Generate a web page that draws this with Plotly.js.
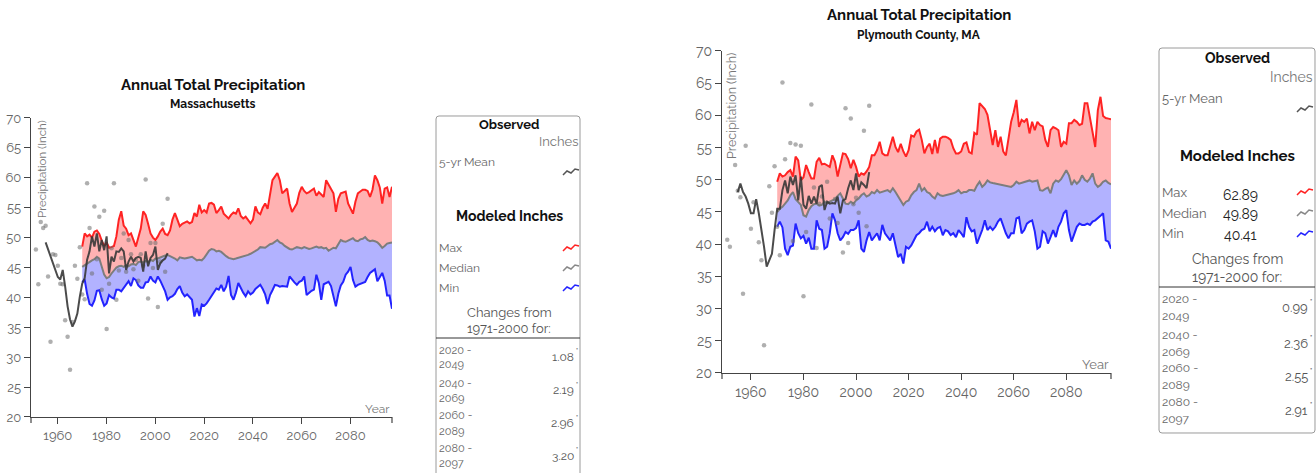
<!DOCTYPE html>
<html><head><meta charset="utf-8">
<script src="https://cdn.plot.ly/plotly-3.0.1.min.js"></script>
<style>html,body{margin:0;padding:0;background:#fff;}#chart{width:1316px;height:473px;}</style>
</head><body><div id="chart"></div>
<script>
// ---------------- DATA ----------------
const modelStart = 1970, modelEnd = 2097;
const modelYears = [];
for (let y = modelStart; y <= modelEnd; y++) modelYears.push(y);

// Massachusetts modeled (inches), 1970-2097
const maMax = [
48.5,50.7,50.2,50.5,50.0,51.0,51.2,50.6,49.5,48.6,
49.2,48.3,48.4,48.6,50.2,53.0,54.4,52.0,51.5,50.4,
50.7,49.5,48.5,50.0,51.5,54.4,53.8,52.3,50.7,50.0,
49.6,50.2,51.0,51.5,50.6,50.4,51.2,53.0,54.1,53.0,
51.9,52.3,52.5,52.7,52.4,52.6,54.1,53.5,55.5,54.2,
54.6,54.2,55.7,55.8,55.5,54.1,54.6,55.2,54.0,53.6,
53.2,53.8,54.2,54.0,54.9,53.6,53.2,53.5,53.0,52.4,
53.0,55.2,54.2,53.9,55.0,55.7,54.8,57.0,59.6,60.2,
60.8,59.6,57.4,57.8,58.2,55.7,54.3,55.0,55.7,57.5,
58.5,57.8,57.4,57.6,57.9,58.2,57.0,57.6,57.2,56.8,
59.6,58.8,58.0,57.4,54.3,56.5,57.4,57.6,57.7,55.7,
54.8,54.0,56.0,57.4,57.7,58.0,58.0,57.8,56.8,58.0,
60.4,59.6,58.4,55.7,58.2,58.4,56.8,58.5];
const maMedian = [
45.1,45.4,45.7,46.0,46.2,46.4,46.8,46.5,45.0,43.8,
43.2,43.4,44.0,44.6,45.0,45.2,45.3,45.1,45.4,45.2,
45.5,45.6,45.4,45.9,46.0,45.8,46.1,45.9,46.3,46.1,
46.5,46.5,46.7,46.8,47.0,47.1,46.9,46.8,46.5,46.2,
46.7,46.6,46.5,46.6,46.7,46.8,46.5,46.2,46.3,46.2,
46.6,47.3,47.8,48.1,48.0,47.7,47.8,47.6,47.2,46.9,
46.6,46.5,46.4,46.5,46.6,46.7,46.8,46.9,47.1,47.3,
47.5,47.7,48.0,48.4,48.3,48.3,48.6,48.9,49.0,49.3,
49.6,49.2,49.0,48.6,48.3,48.1,48.0,48.2,48.4,48.3,
48.2,48.4,48.3,48.1,48.2,48.4,48.5,48.3,48.4,48.2,
48.3,47.8,48.1,48.3,48.2,48.9,49.6,49.4,49.3,49.5,
49.7,49.9,49.5,49.4,49.7,49.8,50.1,49.6,49.4,49.5,
49.4,49.2,48.8,48.3,48.6,49.0,49.1,49.2];
const maMin = [
42.5,43.0,40.6,38.9,38.6,39.5,41.1,41.2,39.7,38.6,
39.0,40.4,40.0,39.8,41.3,41.3,41.0,41.6,42.2,42.7,
41.9,43.2,42.9,42.0,41.6,41.6,42.5,42.6,43.5,42.8,
42.5,43.5,42.8,41.8,41.0,39.6,40.0,40.2,40.6,41.4,
41.9,40.8,40.2,40.5,40.0,39.6,36.8,38.2,36.9,38.8,
38.6,39.0,39.6,40.3,40.8,41.5,41.3,42.1,41.0,41.8,
43.6,40.4,39.6,40.8,42.4,41.5,40.8,40.2,41.0,40.5,
40.8,41.4,41.8,42.1,41.4,40.5,38.9,40.4,41.2,42.1,
42.0,41.8,41.9,41.8,41.8,43.5,42.9,42.5,42.1,42.6,
42.8,43.5,40.4,40.8,41.1,41.3,43.8,42.4,39.6,42.2,
42.4,42.6,41.9,40.0,38.5,40.6,42.0,42.6,43.8,44.3,
45.1,42.9,41.8,42.1,42.3,42.5,42.6,43.4,44.1,44.4,
44.7,42.7,43.5,44.1,42.8,40.3,40.3,38.1];

// Massachusetts observed annual totals
const maObsYears = [
1951,1952,1953,1954,1955,1956,1957,1958,1959,1960,
1961,1962,1963,1964,1965,1966,1967,1968,1969,1970,
1971,1972,1973,1974,1975,1976,1977,1978,1979,1980,
1981,1982,1983,1984,1985,1986,1987,1988,1989,1990,
1991,1992,1993,1994,1995,1996,1997,1998,1999,2000,
2001,2002,2003,2004,2005];
const maObs = [
48.0,42.2,52.6,51.6,52.0,43.5,32.6,47.2,47.1,45.3,
42.3,42.2,36.2,33.4,27.9,35.9,45.3,43.1,48.4,40.5,
39.7,59.1,51.6,44.0,55.2,46.4,53.5,41.3,54.5,34.7,
42.3,48.2,59.1,39.6,44.5,46.6,50.7,44.3,49.6,47.2,
44.7,46.3,42.8,47.2,45.3,59.7,39.8,49.1,44.9,49.1,
38.4,46.0,52.3,44.3,56.5];
// Observed 5-yr mean, 1955-2005
const meanYears = [];
for (let y = 1955; y <= 2005; y++) meanYears.push(y);
const maMean = [
49.2,48.0,46.8,45.7,44.5,43.4,43.0,44.6,41.8,38.5,
36.3,35.1,36.0,37.3,40.1,42.3,43.2,46.3,47.7,50.2,
48.5,50.7,47.7,49.6,47.9,50.2,44.0,46.8,46.0,47.7,
47.6,48.2,47.7,44.6,46.0,46.8,46.0,46.6,46.8,46.6,
44.3,47.7,45.2,46.6,47.1,48.5,44.6,45.7,46.2,46.5,
47.4];

// Plymouth County modeled (inches), 1970-2097
const plyMax = [
49.7,51.0,50.5,50.7,51.2,51.5,50.5,53.6,53.0,49.9,
50.4,52.3,51.2,50.2,50.2,52.8,53.4,52.4,52.5,52.2,
52.0,53.8,52.8,50.5,52.5,54.1,54.0,53.2,51.8,53.1,
52.0,50.5,51.0,50.8,51.3,52.0,53.8,53.8,54.6,55.9,
54.1,53.8,53.8,55.1,56.7,55.1,54.3,55.6,54.4,53.6,
54.6,56.9,56.7,57.5,57.8,56.2,54.1,55.1,55.6,54.0,
56.2,54.1,56.4,56.7,56.7,56.5,56.2,54.9,54.1,54.1,
54.4,55.6,55.8,54.3,54.1,57.3,57.0,61.9,61.4,61.0,
60.1,58.0,55.4,57.7,55.1,56.7,54.4,53.8,56.2,59.0,
60.5,62.4,58.2,59.3,59.0,59.5,57.2,59.0,57.7,59.0,
58.5,58.3,56.2,55.1,57.7,58.2,58.0,57.7,55.1,55.9,
55.6,58.8,58.8,59.3,59.0,58.5,58.7,61.9,61.9,59.5,
57.2,55.1,60.8,62.89,59.9,59.6,59.5,59.4];
const plyMedian = [
45.0,45.5,45.8,46.3,46.8,47.6,48.1,47.0,46.6,46.1,
44.5,44.3,45.3,45.9,46.2,46.3,46.0,46.1,46.6,46.3,
46.6,46.8,47.0,47.5,47.9,47.1,46.3,46.2,46.6,46.3,
46.8,47.1,47.6,47.9,47.4,47.6,48.1,47.9,48.4,48.0,
48.1,48.2,48.4,48.1,48.7,48.1,47.4,46.6,46.1,46.6,
46.8,47.6,48.1,48.4,49.4,48.3,48.7,48.1,47.9,47.4,
47.1,47.9,47.6,47.5,47.6,47.6,47.7,47.9,48.1,48.4,
47.9,48.1,48.1,48.4,48.4,48.3,49.1,49.7,48.9,49.3,
49.9,49.6,49.5,49.4,49.4,49.2,49.2,49.1,48.9,48.9,
49.2,49.7,49.4,49.5,49.7,49.7,49.9,49.7,49.8,49.9,
48.4,48.3,48.6,48.8,47.9,49.4,49.9,49.7,50.1,50.7,
51.5,50.7,49.2,49.9,49.4,49.8,50.7,50.0,49.7,50.2,
51.0,49.4,48.9,49.2,49.7,49.9,49.5,49.3];
const plyMin = [
42.7,43.5,42.6,39.3,38.3,39.6,39.8,43.2,41.7,40.9,
41.3,40.1,41.0,39.3,39.3,43.7,42.4,42.2,39.3,39.6,
41.7,44.8,43.7,41.7,40.6,41.1,41.9,41.6,42.2,42.2,
42.5,43.7,39.3,38.8,40.6,41.9,40.6,41.1,41.7,40.6,
43.0,41.7,41.1,40.6,41.7,39.6,38.0,38.5,37.0,39.6,
39.3,39.8,40.6,41.4,41.7,42.2,42.4,43.5,42.0,42.7,
42.0,42.5,42.7,41.4,42.2,42.0,41.4,41.7,41.1,42.2,
41.7,41.1,44.2,42.7,42.0,42.2,40.1,41.1,42.2,43.7,
42.2,42.7,42.2,42.7,43.5,44.0,42.7,41.7,40.9,41.7,
41.7,44.0,44.2,41.7,42.2,43.2,43.5,43.7,42.0,39.3,
39.6,42.0,41.7,40.1,41.1,42.2,41.1,42.7,43.5,44.8,
45.3,42.2,40.4,41.7,42.7,43.2,43.0,43.0,43.2,43.0,
43.5,43.7,44.0,44.4,44.8,40.6,40.4,39.3];

// Plymouth observed annual totals
const plyObsYears = [
1951,1952,1954,1955,1956,1957,1958,1960,1961,1963,
1964,1965,1967,1968,1969,1970,1971,1972,1973,1975,
1976,1977,1979,1980,1981,1983,1984,1985,1986,1987,
1989,1990,1992,1993,1995,1996,1997,1998,1999,2000,
2001,2003,2004,2005];
const plyObs = [
40.7,39.6,52.3,48.3,47.3,32.3,55.3,42.4,46.5,40.3,
37.5,24.3,49.0,44.9,52.1,42.7,38.3,65.1,53.2,55.7,
40.5,55.5,55.3,31.9,41.9,61.7,48.8,39.4,46.3,47.4,
49.7,44.0,47.0,43.3,38.7,61.1,40.2,59.5,46.2,47.2,
44.9,57.6,42.8,61.5];
// Plymouth observed 5-yr mean, 1955-2005
const plyMean = [
48.1,49.4,48.1,47.4,46.3,44.8,44.8,47.0,44.8,42.4,
39.6,36.5,37.5,38.5,42.2,45.5,45.5,48.4,49.9,47.9,
50.5,49.2,50.7,46.8,50.5,46.1,45.5,47.5,46.3,47.4,
46.3,48.9,49.2,45.3,46.6,46.3,46.4,46.3,47.4,44.8,
46.8,47.0,48.7,49.9,48.4,51.0,48.4,49.6,49.2,48.7,
51.2];

// Axis ticks
const xRange = [1949, 2097];
const xTickVals = [1960,1980,2000,2020,2040,2060,2080];
const xTickText = ['1960','1980','2000','2020','2040','2060','2080'];
const yTickVals = [20,25,30,35,40,45,50,55,60,65,70];

// Legend texts
const periodStart = ['2020 -','2040 -','2060 -','2080 -'];
const periodEnd = ['2049','2069','2089','2097'];
const maChange = ['1.08','2.19','2.96','3.20'];
const plyChange = ['0.99','2.36','2.55','2.91'];
const modeledNames = ['Max','Median','Min'];
const plyModeled = ['62.89','49.89','40.41'];

// ---------------- LAYOUT HELPERS ----------------
const W = 1316, H = 473;
const FONT = 'Raleway, Lato, "Open Sans", sans-serif';
const X = v => +(v / W).toFixed(5);
const Y = v => +(1 - v / H).toFixed(5);

const RED = 'rgb(255,35,35)', BLUE = 'rgb(35,35,255)', MED = 'rgb(125,125,125)', MEAN = 'rgba(55,55,55,0.9)';

function panelTraces(xa, ya, mn, md, mx, oy, ov, mv) {
  return [
    {x: modelYears, y: mn, xaxis: xa, yaxis: ya, mode: 'lines', line: {color: BLUE, width: 2}, hoverinfo: 'skip'},
    {x: modelYears, y: md, xaxis: xa, yaxis: ya, mode: 'lines', line: {color: MED, width: 2},
     fill: 'tonexty', fillcolor: 'rgba(0,0,255,0.3)', hoverinfo: 'skip'},
    {x: modelYears, y: mx, xaxis: xa, yaxis: ya, mode: 'lines', line: {color: RED, width: 2},
     fill: 'tonexty', fillcolor: 'rgba(255,0,0,0.3)', hoverinfo: 'skip'},
    {x: oy, y: ov, xaxis: xa, yaxis: ya, mode: 'markers', marker: {color: 'rgba(110,110,110,0.55)', size: 4.5}, hoverinfo: 'skip'},
    {x: meanYears, y: mv, xaxis: xa, yaxis: ya, mode: 'lines', line: {color: MEAN, width: 2}, hoverinfo: 'skip'}
  ];
}

const data = [
  ...panelTraces('x', 'y', maMin, maMedian, maMax, maObsYears, maObs, maMean),
  ...panelTraces('x2', 'y2', plyMin, plyMedian, plyMax, plyObsYears, plyObs, plyMean)
];

function xAxis(l, r, anchor, fs) {
  return {domain: [X(l), X(r)], range: xRange, anchor: anchor, tickmode: 'array',
    tickvals: xTickVals, ticktext: xTickText, ticks: 'outside', ticklen: 6, tickcolor: '#444',
    showline: true, linecolor: '#444', linewidth: 1.2, showgrid: false, zeroline: false,
    tickfont: {size: fs, color: '#666', family: FONT}, fixedrange: true};
}
function yAxis(top, bottom, anchor, fs) {
  return {domain: [Y(bottom), Y(top)], range: [20, 70], anchor: anchor, tickmode: 'array',
    tickvals: yTickVals, ticks: 'outside', ticklen: 6, tickcolor: '#444',
    showline: true, linecolor: '#444', linewidth: 1.2, showgrid: false, zeroline: false,
    tickfont: {size: fs, color: '#666', family: FONT}, fixedrange: true};
}

const annotations = [];
function txt(text, x, y, xa, size, color, extra) {
  annotations.push(Object.assign({text: text, x: X(x), y: Y(y), xref: 'paper', yref: 'paper',
    xanchor: xa, yanchor: 'middle', showarrow: false, font: {size: size, color: color, family: FONT}}, extra || {}));
}
const shapes = [];
function box(x0, y0, x1, y1, r) {
  const p = `M${X(x0 + r)},${Y(y0)} L${X(x1 - r)},${Y(y0)} Q${X(x1)},${Y(y0)} ${X(x1)},${Y(y0 + r)} ` +
    `L${X(x1)},${Y(y1 - r)} Q${X(x1)},${Y(y1)} ${X(x1 - r)},${Y(y1)} L${X(x0 + r)},${Y(y1)} ` +
    `Q${X(x0)},${Y(y1)} ${X(x0)},${Y(y1 - r)} L${X(x0)},${Y(y0 + r)} Q${X(x0)},${Y(y0)} ${X(x0 + r)},${Y(y0)} Z`;
  shapes.push({type: 'path', xref: 'paper', yref: 'paper', path: p, line: {color: '#9a9a9a', width: 1}, fillcolor: 'rgba(0,0,0,0)'});
}
function hline(x0, x1, y) {
  shapes.push({type: 'line', xref: 'paper', yref: 'paper', x0: X(x0), x1: X(x1), y0: Y(y), y1: Y(y), line: {color: '#333', width: 1}});
}
function vline(x, y0, y1) {
  shapes.push({type: 'line', xref: 'paper', yref: 'paper', x0: X(x), x1: X(x), y0: Y(y0), y1: Y(y1), line: {color: '#444', width: 1.2}});
}
function icon(x, y, color) {
  const pts = [[0, 7], [4, 3], [8, 5], [12, 1], [16, 2]];
  const p = pts.map((q, i) => (i ? 'L' : 'M') + X(x + q[0]) + ',' + Y(y + q[1])).join(' ');
  shapes.push({type: 'path', xref: 'paper', yref: 'paper', path: p, line: {color: color, width: 1.5}});
}
// value with a small raised inch mark
function inchValue(v, xRight, y, size) {
  txt(v, xRight - 4, y, 'right', size, '#555');
  txt('"', xRight, y - 6, 'right', Math.round(size * 0.6), '#555');
}

// ----- Panel 1: Massachusetts -----
txt('<b>Annual Total Precipitation</b>', 213, 85, 'center', 15, '#111');
txt('<b>Massachusetts</b>', 213, 104, 'center', 12, '#111');
annotations.push({text: 'Precipitation (Inch)', x: X(42), y: Y(118), xref: 'paper', yref: 'paper',
  xanchor: 'center', yanchor: 'top', textangle: -90, showarrow: false, font: {size: 11.5, color: '#777', family: FONT}});
txt('Year', 392, 409, 'right', 12, '#777');
vline(31, 417, 423); vline(392, 417, 423);

box(436, 116, 580, 500, 3);
txt('<b>Observed</b>', 509, 125, 'center', 13, '#111');
txt('Inches', 580, 142, 'right', 13, '#777');
txt('5-yr Mean', 437, 162, 'left', 12, '#666');
icon(563, 168, '#555');
txt('<b>Modeled Inches</b>', 509, 216, 'center', 14, '#111');
[248, 268, 288].forEach((yy, i) => { txt(modeledNames[i], 437, yy, 'left', 12, '#666'); });
icon(563, 244, RED); icon(563, 264, '#888'); icon(563, 284, BLUE);
txt('Changes from', 509, 312, 'center', 13, '#555');
txt('1971-2000 for:', 509, 329, 'center', 13, '#555');
hline(436, 580, 338);
for (let i = 0; i < 4; i++) {
  const b = 350 + i * 33;
  txt(periodStart[i], 437, b, 'left', 11, '#666');
  txt(periodEnd[i], 437, b + 15, 'left', 11, '#666');
  inchValue(maChange[i], 580, b + 7, 12);
}

// ----- Panel 2: Plymouth County -----
txt('<b>Annual Total Precipitation</b>', 919, 15, 'center', 15, '#111');
txt('<b>Plymouth County, MA</b>', 919, 35, 'center', 12, '#111');
annotations.push({text: 'Precipitation (Inch)', x: X(732), y: Y(51), xref: 'paper', yref: 'paper',
  xanchor: 'center', yanchor: 'top', textangle: -90, showarrow: false, font: {size: 12.5, color: '#777', family: FONT}});
txt('Year', 1111, 364, 'right', 13, '#777');
vline(722, 373, 379); vline(1111, 373, 379);

box(1159, 48, 1315, 433, 3);
txt('<b>Observed</b>', 1237, 58, 'center', 14, '#111');
txt('Inches', 1315, 77, 'right', 14, '#777');
txt('5-yr Mean', 1160, 98, 'left', 13, '#666');
icon(1297, 105, '#555');
txt('<b>Modeled Inches</b>', 1237, 156, 'center', 15, '#111');
[192, 213, 234].forEach((yy, i) => {
  txt(modeledNames[i], 1160, yy, 'left', 13, '#666');
  txt(plyModeled[i], 1240, yy + (i === 0 ? 3 : 1), 'center', 14, '#222');
});
icon(1297, 188, RED); icon(1297, 209, '#888'); icon(1297, 230, BLUE);
txt('Changes from', 1237, 259, 'center', 14, '#555');
txt('1971-2000 for:', 1237, 277, 'center', 14, '#555');
hline(1159, 1315, 287);
[299, 335, 368, 402].forEach((b, i) => {
  txt(periodStart[i], 1160, b, 'left', 12, '#666');
  txt(periodEnd[i], 1160, b + 16.5, 'left', 12, '#666');
  inchValue(plyChange[i], 1314, b + 8, 13);
});

const layout = {
  width: W, height: H, margin: {l: 0, r: 0, t: 0, b: 0}, showlegend: false,
  paper_bgcolor: '#fff', plot_bgcolor: '#fff', font: {family: FONT},
  xaxis: xAxis(31, 392, 'y', 13), yaxis: yAxis(118, 417, 'x', 13),
  xaxis2: xAxis(722, 1111, 'y2', 14), yaxis2: yAxis(51, 373, 'x2', 14),
  annotations: annotations, shapes: shapes
};
Plotly.newPlot('chart', data, layout, {staticPlot: true, displayModeBar: false});
</script></body></html>
